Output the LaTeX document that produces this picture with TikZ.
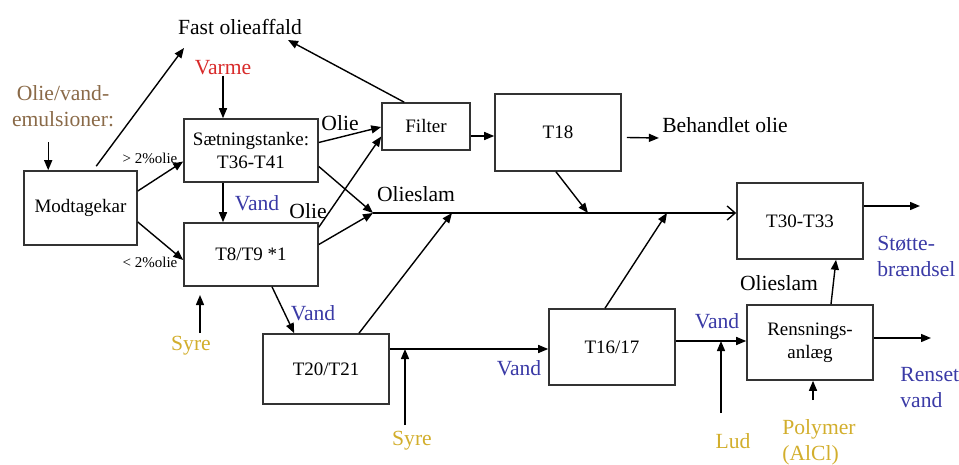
\documentclass[tikz,border=0pt]{standalone}
\usepackage{fontspec}
\setmainfont{Liberation Serif}
\usetikzlibrary{arrows.meta,positioning,calc}
\definecolor{lbred}{HTML}{D82A2A}
\definecolor{lbblue}{HTML}{3A3AA6}
\definecolor{lbgold}{HTML}{D2AE2C}
\definecolor{lbbrown}{HTML}{8A6A48}
\tikzset{
  tank/.style={draw=black!80, line width=0.8pt, align=center, inner sep=1pt, font=\fontsize{9.5}{11.5}\selectfont},
  lbl/.style={align=center, inner sep=0pt, font=\fontsize{10.8}{13}\selectfont},
  pct/.style={inner sep=0pt, font=\fontsize{7.5}{9}\selectfont},
  arr/.style={-{Triangle[length=5pt,width=4pt]}, line width=0.7pt},
  openarr/.style={-{Straight Barb[length=4pt,width=7pt]}, line width=0.7pt},
}

\begin{document}
\begin{tikzpicture}[x=0.5pt, y=-0.5pt]
  \useasboundingbox (0,0) rectangle (959,465);
  \node[tank, minimum width=56.5pt, minimum height=37pt] (mod) at (80.5,208) {Modtagekar};
  \node[tank, minimum width=67pt, minimum height=31.5pt] (sat) at (251,150.5) {Sætningstanke:\\T36-T41};
  \node[tank, minimum width=67pt, minimum height=31.5pt] (t8) at (251,254.5) {T8/T9 *1};
  \node[tank, minimum width=44pt, minimum height=23.5pt] (fil) at (426,126.5) {Filter};
  \node[tank, minimum width=63pt, minimum height=38.5pt] (t18) at (558,132.5) {T18};
  \node[tank, minimum width=63pt, minimum height=38pt] (t30) at (800,221) {T30-T33};
  \node[tank, minimum width=63pt, minimum height=35pt] (t20) at (326,369) {T20/T21};
  \node[tank, minimum width=63pt, minimum height=38pt] (t16) at (612,347) {T16/17};
  \node[tank, minimum width=63pt, minimum height=37.5pt] (ren) at (810,342.5) {Rensnings-\\anlæg};

  \node[lbl] (fast) at (240,27) {Fast olieaffald};
  \node[lbl, text=lbred] (varme) at (223,68) {Varme};
  \node[lbl, text=lbbrown] (emul) at (63,106) {Olie/vand-\\emulsioner:};
  \node[pct] (gt) at (150,158) {> 2\%olie};
  \node[pct] (lt) at (150,262) {< 2\%olie};
  \node[lbl] (olie1) at (340,123) {Olie};
  \node[lbl] (olie2) at (308,211) {Olie};
  \node[lbl, text=lbblue] (vand1) at (257,203) {Vand};
  \node[lbl] (slam1) at (416,194) {Olieslam};
  \node[lbl] (beh) at (725,125) {Behandlet olie};
  \node[lbl, text=lbblue] (vand2) at (313,313) {Vand};
  \node[lbl, text=lbgold] (syre1) at (191,346) {Syre};
  \node[lbl, text=lbgold] (syre2) at (412,441) {Syre};
  \node[lbl, text=lbblue] (vand3) at (519,368) {Vand};
  \node[lbl, text=lbblue] (vand4) at (717,321) {Vand};
  \node[lbl] (slam2) at (779,283) {Olieslam};
  \node[lbl, text=lbblue, align=left, anchor=west] (stotte) at (877,256) {Støtte-\\brændsel};
  \node[lbl, text=lbblue, align=left, anchor=west] (renset) at (900,388) {Renset\\vand};
  \node[lbl, text=lbgold] (lud) at (733,441) {Lud};
  \node[lbl, text=lbgold, align=left, anchor=west] (poly) at (782,442) {Polymer\\(AlCl)};

  \coordinate (sl0) at (373,213);
  \coordinate (jt18) at (588,213);
  \coordinate (jt20) at (452,213);
  \coordinate (jt16) at (667,213);
  \coordinate (jsyre) at (405,349);
  \coordinate (jlud) at (721,341);
  \coordinate (fastin1) at (184,48);
  \coordinate (fastin2) at (288,40);
  \coordinate (out30) at (920,206);
  \coordinate (outren) at (931,338);
  \coordinate (syre1top) at (200,295);
  \coordinate (syre1bot) at (200,333);
  \coordinate (syre2bot) at (405,425);
  \coordinate (ludbot) at (721,413);
  \coordinate (polybot) at (813,400);

  \draw[arr] ($(mod.north west)+(25,-28)$) -- ($(mod.north west)+(25,0)$);
  \draw[arr] ($(mod.north west)+(73,-4)$) -- (fastin1);
  \draw[arr] ($(fil.north west)+(23,0)$) -- (fastin2);
  \draw[arr] (varme.south) -- (varme.south |- sat.north);
  \draw[arr] ($(mod.east)+(0,-17)$) -- ($(sat.west)+(0,11)$);
  \draw[arr] ($(mod.east)+(0,14)$) -- ($(t8.west)+(0,5.5)$);
  \draw[arr] (sat.south -| varme) -- (t8.north -| varme);
  \draw[arr] ($(sat.east)+(0,-8)$) -- ($(fil.west)+(0,0.5)$);
  \draw[arr] ($(sat.east)+(0,16)$) -- (sl0);
  \draw[arr] ($(t8.north east)+(0,5)$) -- ($(fil.west)+(0,10)$);
  \draw[arr] ($(t8.east)+(0,-10)$) -- (sl0);
  \draw[openarr] (sl0) -- (sl0 -| t30.west);
  \draw[arr] ($(t18.south)+(-2,0)$) -- (jt18);
  \draw[arr] ($(t20.north)+(33,0)$) -- (jt20);
  \draw[arr] ($(t16.north)+(-7,0)$) -- (jt16);
  \draw[arr] ($(fil.east)+(0,9.5)$) -- ($(t18.west)+(0,3.5)$);
  \draw[arr] ($(t18.east)+(5,5)$) -- ($(beh.west)+(-3,13)$);
  \draw[arr] ($(t30.east)+(0,-15)$) -- (out30);
  \draw[arr] ($(t8.south)+(21,0)$) -- ($(t20.north west)+(32,0)$);
  \draw[arr] ($(t20.east)+(0,-20)$) -- ($(t16.west)+(0,2)$);
  \draw[arr] ($(t16.east)+(0,-6)$) -- ($(ren.west)+(0,-1.5)$);
  \draw[arr] (polybot) -- (polybot |- ren.south);
  \draw[arr] ($(ren.north)+(21,0)$) -- ($(t30.south)+(36,0)$);
  \draw[arr] ($(ren.east)+(0,-4.5)$) -- (outren);
  \foreach \a/\b in {syre1bot/syre1top,syre2bot/jsyre,ludbot/jlud} \draw[arr] (\a) -- (\b);
\end{tikzpicture}
\end{document}
